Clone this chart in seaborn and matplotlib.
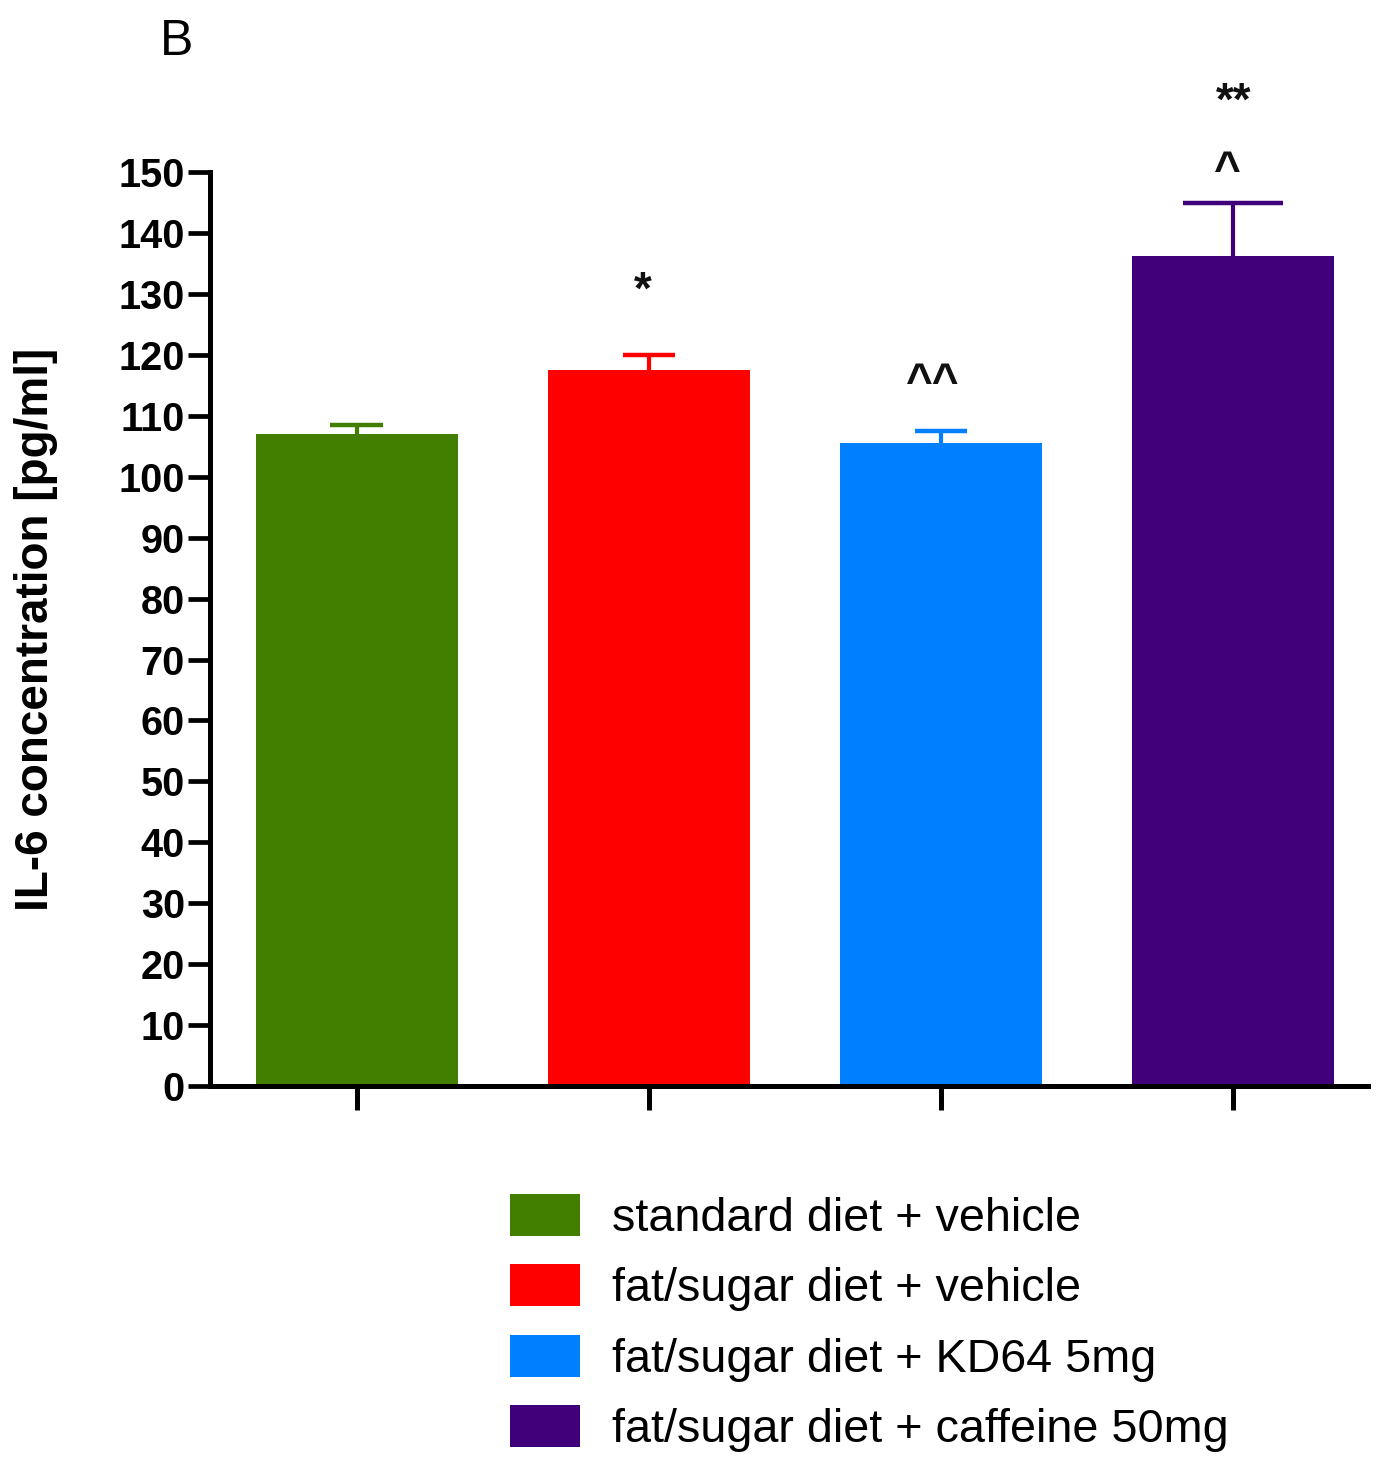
import matplotlib
matplotlib.use("Agg")
import matplotlib.pyplot as plt
from matplotlib.patches import Patch
import seaborn as sns
import pandas as pd

# Group labels, means and upper error values (pg/ml)
groups = ["standard diet + vehicle", "fat/sugar diet + vehicle",
          "fat/sugar diet + KD64 5mg", "fat/sugar diet + caffeine 50mg"]
means = [107.0, 117.5, 105.5, 136.3]
errors = [1.5, 2.5, 2.0, 8.7]
colors = ["#427E00", "#FF0000", "#0080FF", "#40007A"]
marks = [[], ["*"], ["^^"], ["^", "**"]]
yticks = list(range(0, 151, 10))

sns.set_theme(style="white")
plt.rcParams["font.family"] = ["Liberation Sans", "DejaVu Sans"]
plt.rcParams["text.color"] = "black"
plt.rcParams["axes.labelcolor"] = "black"
plt.rcParams["xtick.color"] = "black"
plt.rcParams["ytick.color"] = "black"

fig = plt.figure(figsize=(13.8, 14.58), dpi=100)
ax = fig.add_axes([0.152, 0.2551, 0.839, 0.6269])

df = pd.DataFrame({"group": groups, "value": means})
sns.barplot(data=df, x="group", y="value", hue="group", palette=colors,
            legend=False, width=0.69, errorbar=None, saturation=1,
            linewidth=0, ax=ax)

# Upward-only error bars: stem plus top cap
cap_half = [0.09, 0.09, 0.09, 0.172]
for i, (m, e, c) in enumerate(zip(means, errors, colors)):
    ax.vlines(i, m, m + e, color=c, linewidth=3, zorder=3)
    ax.hlines(m + e, i - cap_half[i], i + cap_half[i], color=c,
              linewidth=3.2, zorder=3)

# Significance marks, stacked above each error bar
mark_offset = {"*": 10.4, "^^": 7.7, "^": 5.0, "**": 16.3}
mark_dx = {"*": -0.02, "^^": -0.03, "^": -0.02, "**": 0.0}
for i, lst in enumerate(marks):
    top = means[i] + errors[i]
    for s in lst:
        ax.text(i + mark_dx[s], top + mark_offset[s], s, ha="center",
                va="center", fontsize=33, fontweight="bold", color="#111111")

ax.set_ylim(0, 150)
ax.set_xlim(-0.503, 3.46)
ax.set_yticks(yticks)
ax.set_yticklabels([str(t) for t in yticks], fontsize=28.5, fontweight="bold")
ax.set_xticklabels([])
ax.set_xlabel("")
ax.set_ylabel("IL-6 concentration [pg/ml]", fontsize=33, fontweight="bold")
ax.yaxis.set_label_coords(-0.131, 0.5)

for side in ["top", "right"]:
    ax.spines[side].set_visible(False)
for side in ["left", "bottom"]:
    ax.spines[side].set_linewidth(3.6)
    ax.spines[side].set_color("black")
ax.tick_params(axis="y", direction="out", length=16, width=3.4, pad=2,
               left=True)
ax.tick_params(axis="x", direction="out", length=17, width=3.6, bottom=True)

fig.text(0.128, 0.971, "B", fontsize=36, va="center", ha="center")

handles = [Patch(facecolor=c, edgecolor="none") for c in colors]
fig.legend(handles, groups, loc="upper left", bbox_to_anchor=(0.356, 0.194),
           fontsize=33.7, frameon=False, handlelength=1.5, handleheight=1.0,
           handletextpad=0.68, labelspacing=0.5, borderaxespad=0)

fig.savefig("out.png", dpi=100, facecolor="white")
